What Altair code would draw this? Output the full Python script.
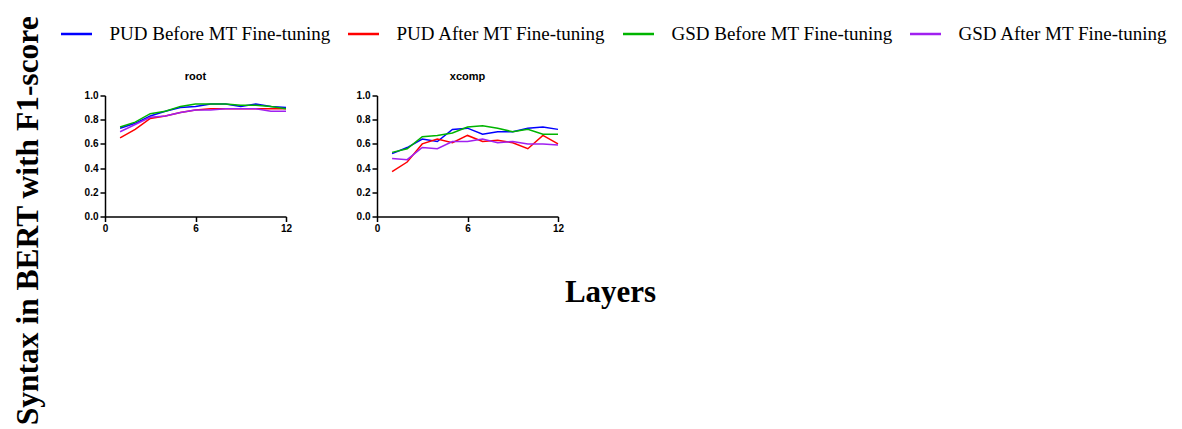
import altair as alt
import pandas as pd

layers = list(range(1, 13))
series = ["PUD Before MT Fine-tuning", "PUD After MT Fine-tuning",
          "GSD Before MT Fine-tuning", "GSD After MT Fine-tuning"]
colors = ["#0000FF", "#FF0000", "#00B400", "#A020F0"]

root_pud_before = [0.73, 0.77, 0.83, 0.87, 0.90, 0.91, 0.93, 0.93, 0.91, 0.93, 0.91, 0.90]
root_pud_after = [0.65, 0.72, 0.81, 0.83, 0.86, 0.88, 0.89, 0.89, 0.89, 0.89, 0.89, 0.89]
root_gsd_before = [0.74, 0.78, 0.85, 0.87, 0.91, 0.93, 0.93, 0.93, 0.92, 0.92, 0.91, 0.89]
root_gsd_after = [0.70, 0.76, 0.82, 0.83, 0.86, 0.88, 0.88, 0.89, 0.89, 0.89, 0.87, 0.87]

xcomp_pud_before = [0.52, 0.57, 0.64, 0.62, 0.72, 0.73, 0.68, 0.70, 0.70, 0.73, 0.74, 0.72]
xcomp_pud_after = [0.37, 0.45, 0.60, 0.64, 0.61, 0.67, 0.62, 0.63, 0.61, 0.56, 0.67, 0.60]
xcomp_gsd_before = [0.53, 0.56, 0.66, 0.67, 0.69, 0.74, 0.75, 0.73, 0.70, 0.72, 0.68, 0.68]
xcomp_gsd_after = [0.48, 0.47, 0.57, 0.56, 0.62, 0.62, 0.64, 0.61, 0.62, 0.60, 0.60, 0.59]


def frame(vals):
    rows = []
    for name, ys in zip(series, vals):
        for l, y in zip(layers, ys):
            rows.append({"layer": l, "f1": y, "series": name})
    return pd.DataFrame(rows)


root_df = frame([root_pud_before, root_pud_after, root_gsd_before, root_gsd_after])
xcomp_df = frame([xcomp_pud_before, xcomp_pud_after, xcomp_gsd_before, xcomp_gsd_after])

color = alt.Color(
    "series:N",
    scale=alt.Scale(domain=series, range=colors),
    legend=alt.Legend(
        orient="none", legendX=-45.5, legendY=-78.5, direction="horizontal",
        columns=4, title=None, symbolType="stroke", symbolSize=961,
        symbolStrokeWidth=2.5, labelFont="Liberation Serif", labelFontSize=19,
        labelColor="black", labelOffset=16, columnPadding=11, labelLimit=400,
    ),
)

tick_font = dict(labelFont="Liberation Sans", labelFontWeight="bold", labelFontSize=10,
                 labelColor="black", domainColor="black", domainWidth=1.5,
                 tickColor="black", tickWidth=1.5, tickSize=5, grid=False)


def panel(df, name, xtitle):
    if xtitle:
        xaxis = alt.Axis(values=[0, 6, 12], labelFlush=False, labelPadding=2,
                         title="Layers", titleX=233, titleY=76, titleAlign="center",
                         titleBaseline="middle", titleFont="Liberation Serif",
                         titleFontSize=31, titleFontWeight="bold", titleColor="black",
                         **tick_font)
    else:
        xaxis = alt.Axis(values=[0, 6, 12], labelFlush=False, labelPadding=2,
                         title=None, **tick_font)
    return alt.Chart(df).mark_line(strokeWidth=1.5).encode(
        x=alt.X("layer:Q", scale=alt.Scale(domain=[0, 12], nice=False), axis=xaxis),
        y=alt.Y("f1:Q", scale=alt.Scale(domain=[0, 1], nice=False),
                axis=alt.Axis(values=[0, 0.2, 0.4, 0.6, 0.8, 1.0], format=".1f",
                              title=None, labelPadding=2, **tick_font)),
        color=color,
    ).properties(
        width=181, height=121,
        title=alt.TitleParams(name, font="Liberation Sans", fontSize=11,
                              fontWeight="bold", color="black", offset=8.5),
    )


chart = alt.hconcat(
    panel(root_df, "root", False),
    panel(xcomp_df, "xcomp", True),
    spacing=64,
).properties(
    title=alt.TitleParams("Syntax in BERT with F1-score", orient="left", anchor="middle",
                          font="Liberation Serif", fontSize=31.5, fontWeight="bold",
                          color="black", offset=15, dx=-58.5),
    padding={"left": 12, "top": 15.5, "right": 5, "bottom": 5},
).configure_view(stroke=None)

chart.save("out.html", embed_options={"renderer": "svg", "actions": False})
